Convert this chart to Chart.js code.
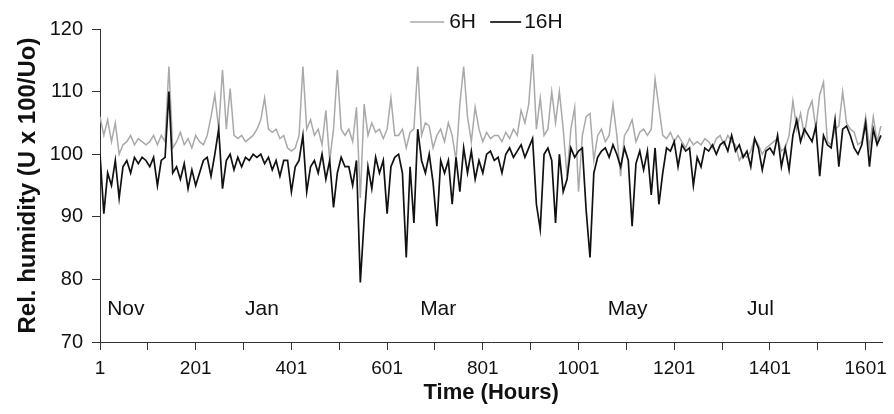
<!DOCTYPE html>
<html><head><meta charset="utf-8">
<script src="https://cdn.jsdelivr.net/npm/chart.js@4"></script>
<style>html,body{margin:0;padding:0;background:#fff;}canvas{display:block;}</style>
</head><body>
<canvas id="c" width="894" height="414"></canvas>
<script>
const seriesNames = ['6H', '16H'];
const hourStart = 1;
const hourStep = 8;
const rh6H = [
  106, 103, 105.5, 102, 105, 100, 101.5, 102, 103, 101.5, 102.5, 102, 101.5,
  102, 103, 101.5, 103, 102, 114, 101, 102, 103.5, 101.5, 102.5, 101, 103,
  102, 101.5, 103, 106, 109.5, 104, 113.5, 104, 110.5, 103, 102.5, 103, 102,
  102.5, 103, 104, 105.5, 109, 104, 103.5, 104, 102.5, 103, 101, 100.5, 101,
  103, 114, 104, 105.5, 103, 104, 101.5, 107, 99, 104, 113.5, 104, 103,
  104, 102, 107.5, 93, 108, 103, 105, 103.5, 104, 102.5, 104, 109, 103,
  103, 104, 101, 103.5, 104, 114, 103, 105, 104.5, 101, 103, 104, 102,
  105, 103, 99, 108, 114, 106, 102, 107.5, 104, 102, 103.5, 102.5, 103,
  103, 102, 103.5, 102.5, 104, 103, 107, 105, 108, 116, 104, 109, 103,
  104, 110, 105, 110, 104, 96.5, 104, 107.5, 94, 103, 106, 106.5, 99,
  103, 104, 102, 103, 108, 103, 96.5, 103, 104, 105.5, 102, 103.5, 104,
  103, 104, 112, 107.5, 103, 102.5, 103.5, 102, 103, 102, 101, 102.5, 101.5,
  102, 101.5, 102.5, 102, 101, 102.5, 103, 101.5, 103, 102, 101.5, 99, 100,
  99.5, 100.5, 102.5, 101.5, 100, 101, 101.5, 102, 102.5, 100.5, 101, 103, 108.5,
  104, 106.5, 103, 107, 108.5, 104, 109.5, 111.5, 102, 101.5, 104, 104.5, 110,
  105, 104, 103.5, 101.5, 102, 106, 101, 106, 102, 104.5
];
const rh16H = [
  100, 90.5, 97, 95, 99, 93, 98, 99, 97, 99.5, 98.5, 99.5, 99,
  98, 99.5, 95, 99, 99.5, 110, 97, 98, 96, 98.5, 94.5, 97.5, 95,
  97, 99, 99.5, 96.5, 100, 104, 94.5, 99, 100, 97.5, 99.5, 98, 99.5,
  99, 100, 99.5, 100, 98.5, 99.5, 97.5, 99, 96.5, 99, 99, 94, 98,
  99, 103, 94, 98, 99, 97, 100, 96, 99, 91.5, 97, 99.5, 98,
  98, 95, 99, 79.5, 89.5, 98, 94.5, 99.5, 97, 99, 90.5, 98, 99.5,
  100, 97, 83.5, 98, 89, 104, 99, 97, 100, 95.5, 88.5, 99, 97,
  99, 92, 99.5, 94, 101, 97, 100.5, 96, 99, 97, 100, 100.5, 99,
  99.5, 97, 100, 101, 99.5, 100.5, 101.5, 99.5, 101, 102.5, 92, 88, 100,
  101, 99, 89, 100, 94, 96, 101, 99.5, 100.5, 101, 91, 83.5, 97,
  99.5, 100.5, 101, 99.5, 101.5, 100, 98, 101, 99, 88.5, 98.5, 100.5, 97.5,
  100.5, 93.5, 101, 92, 97, 101, 100.5, 102, 98, 101.5, 100.5, 101, 95,
  99.5, 98, 101, 100.5, 101.5, 100, 101.5, 102, 100.5, 103, 100.5, 101.5, 99.5,
  100.5, 98, 102.5, 101, 97.5, 100.5, 101, 100, 103, 98, 101, 97.5, 103,
  105.5, 102, 104, 103, 102, 104.5, 96.5, 103, 101.5, 101, 105.5, 98, 104,
  104.5, 103, 101, 100, 101.5, 105, 98, 104, 101.5, 103
];
const xTickValues = [1, 101, 201, 301, 401, 501, 601, 701, 801, 901, 1001, 1101, 1201, 1301, 1401, 1501, 1601];
const xTickLabels = ['1', '', '201', '', '401', '', '601', '', '801', '', '1001', '', '1201', '', '1401', '', '1601'];
const yTickValues = [70, 80, 90, 100, 110, 120];
const monthLabels = ['Nov', 'Jan', 'Mar', 'May', 'Jul'];
const monthHours = [16, 304, 670, 1062, 1353];
const monthLevel = 75.2;

const hours = rh6H.map((_, i) => hourStart + i * hourStep);
const FONT = '"Liberation Sans", Arial, Helvetica, sans-serif';
Chart.defaults.font.family = FONT;
Chart.defaults.color = '#111';

const extras = {
  id: 'extras',
  afterDraw(chart) {
    const {ctx, scales: {x, y}, chartArea} = chart;
    ctx.save();
    ctx.fillStyle = '#111';
    ctx.font = '21px ' + FONT;
    ctx.textAlign = 'left';
    ctx.textBaseline = 'middle';
    monthLabels.forEach((m, i) => {
      ctx.fillText(m, x.getPixelForValue(monthHours[i]), y.getPixelForValue(monthLevel));
    });
    // legend
    const cx = (chartArea.left + chartArea.right) / 2;
    const ly = 22;
    const ds = chart.data.datasets;
    const items = [
      {ds: ds[0], x0: cx - 81, x1: cx - 47, tx: cx - 42},
      {ds: ds[1], x0: cx - 1, x1: cx + 30, tx: cx + 33}
    ];
    ctx.font = '21px ' + FONT;
    items.forEach(it => {
      ctx.strokeStyle = it.ds.borderColor;
      ctx.lineWidth = it.ds.borderWidth;
      ctx.beginPath();
      ctx.moveTo(it.x0, ly);
      ctx.lineTo(it.x1, ly);
      ctx.stroke();
      ctx.fillStyle = '#111';
      ctx.fillText(it.ds.label, it.tx, ly);
    });
    ctx.restore();
  }
};

new Chart(document.getElementById('c'), {
  type: 'line',
  data: {
    datasets: [
      {label: seriesNames[0], data: hours.map((h, i) => ({x: h, y: rh6H[i]})), borderColor: '#a9a9a9', borderWidth: 1.5, order: 1},
      {label: seriesNames[1], data: hours.map((h, i) => ({x: h, y: rh16H[i]})), borderColor: '#111111', borderWidth: 1.7, order: 0}
    ]
  },
  options: {
    responsive: false,
    animation: false,
    devicePixelRatio: 1,
    layout: {padding: {top: 29, right: 11, left: 0, bottom: 0}},
    elements: {point: {radius: 0}, line: {tension: 0}},
    plugins: {legend: {display: false}, tooltip: {enabled: false}},
    scales: {
      x: {
        type: 'linear', min: 1, max: 1636,
        afterBuildTicks: s => { s.ticks = xTickValues.map(v => ({value: v})); },
        afterFit: s => { s.height = 72; },
        ticks: {autoSkip: false, maxRotation: 0, padding: 7, font: {size: 19}, color: '#111',
          callback: (v, i) => xTickLabels[i]},
        grid: {drawOnChartArea: false, drawTicks: true, tickLength: 8, color: '#333'},
        border: {display: true, color: '#333', width: 1},
        title: {display: true, text: 'Time (Hours)', font: {size: 22, weight: 'bold'}, color: '#111', padding: {top: 0, bottom: 8}}
      },
      y: {
        min: 70, max: 120,
        afterBuildTicks: s => { s.ticks = yTickValues.map(v => ({value: v})); },
        afterFit: s => { s.width = 100; },
        ticks: {padding: 9, font: {size: 20}, color: '#111'},
        grid: {drawOnChartArea: false, drawTicks: true, tickLength: 8, color: '#333'},
        border: {display: true, color: '#333', width: 1},
        title: {display: true, text: 'Rel. humidity (U x 100/Uo)', font: {size: 24, weight: 'bold'}, color: '#111', padding: {top: 14, bottom: 0}}
      }
    }
  },
  plugins: [extras]
});
</script>
</body></html>
